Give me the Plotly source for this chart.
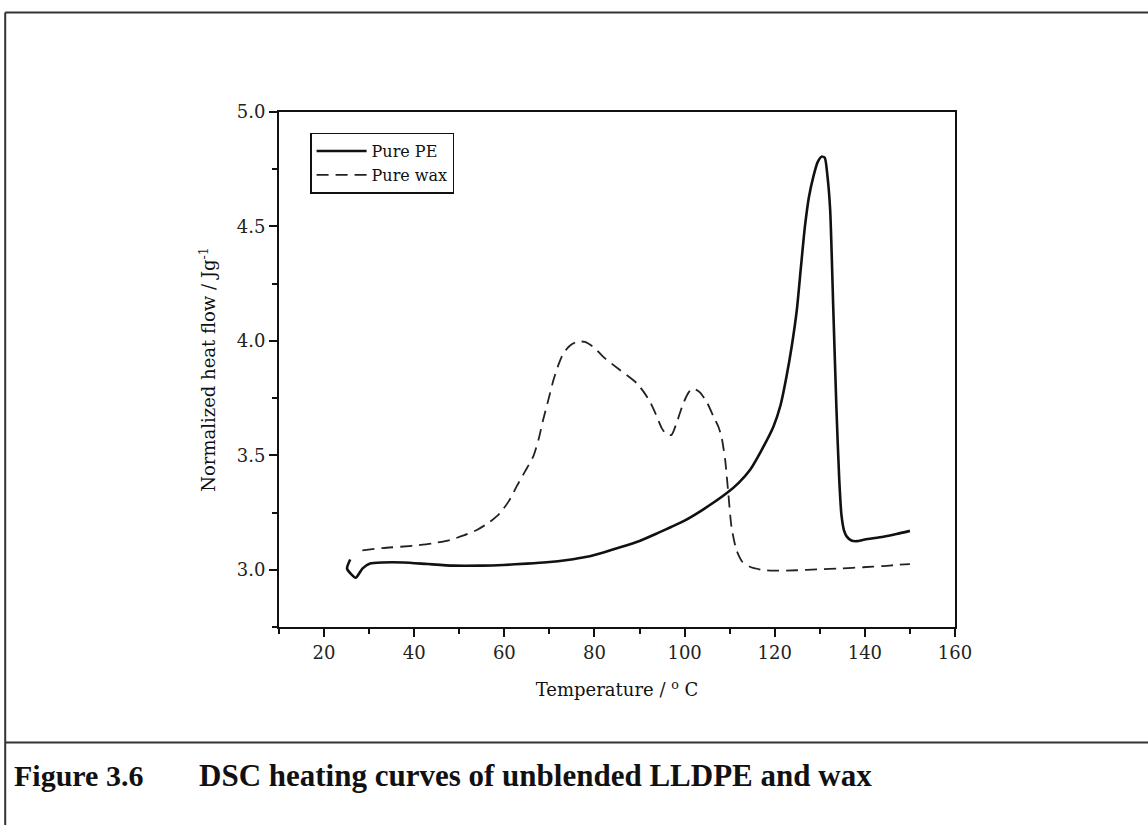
import plotly.graph_objects as go

# DSC heating curve: pure PE (LLDPE)
pe_temp = [25.8, 25.1, 27.0, 28.5, 30.2, 33.0, 37.6, 43.0, 48.7, 55.0, 59.8, 65.0, 69.4,
           74.0, 78.3, 82.0, 85.7, 90.0, 94.0, 97.0, 100.0, 104.0, 109.3, 112.0, 114.5,
           117.0, 119.7, 121.3, 122.6, 123.8, 124.9, 125.8, 126.7, 127.6, 128.6, 129.5,
           130.4, 131.1, 131.7, 132.3, 133.0, 133.7, 134.3, 134.8, 135.4, 136.0, 137.0,
           138.2, 140.0, 144.1, 147.0, 150.0]
pe_flow = [3.045, 3.005, 2.965, 3.005, 3.027, 3.032, 3.032, 3.025, 3.018, 3.018, 3.021,
           3.027, 3.033, 3.043, 3.057, 3.076, 3.098, 3.126, 3.160, 3.187, 3.215, 3.262,
           3.334, 3.380, 3.436, 3.520, 3.625, 3.720, 3.843, 3.980, 4.135, 4.320, 4.500,
           4.630, 4.720, 4.780, 4.805, 4.800, 4.720, 4.572, 4.135, 3.700, 3.400, 3.240,
           3.170, 3.145, 3.128, 3.125, 3.132, 3.144, 3.156, 3.170]

# DSC heating curve: pure wax
wax_temp = [28.5, 33.0, 39.8, 44.0, 47.9, 51.0, 53.9, 56.5, 59.0, 61.0, 62.7, 64.6, 66.4,
            67.6, 68.6, 69.8, 70.9, 72.0, 73.1, 74.6, 76.1, 77.9, 80.0, 81.9, 85.5, 89.4,
            91.0, 92.3, 93.6, 94.9, 96.0, 97.1, 98.2, 99.7, 100.9, 101.9, 103.4, 105.0,
            106.4, 107.5, 108.2, 109.0, 109.7, 110.4, 111.5, 112.8, 114.5, 117.0, 119.7,
            125.0, 129.3, 135.0, 139.6, 144.0, 147.0, 150.0]
wax_flow = [3.085, 3.095, 3.105, 3.115, 3.130, 3.150, 3.174, 3.205, 3.247, 3.300, 3.363,
            3.430, 3.494, 3.570, 3.654, 3.745, 3.829, 3.895, 3.946, 3.980, 3.996, 3.996,
            3.970, 3.931, 3.875, 3.815, 3.775, 3.735, 3.680, 3.620, 3.590, 3.589, 3.640,
            3.727, 3.775, 3.793, 3.775, 3.730, 3.670, 3.625, 3.580, 3.480, 3.334, 3.188,
            3.086, 3.035, 3.013, 3.000, 2.996, 2.998, 3.002, 3.006, 3.011, 3.016, 3.021,
            3.025]

x_ticks = [20, 40, 60, 80, 100, 120, 140, 160]
y_ticks = [3.0, 3.5, 4.0, 4.5, 5.0]
y_tick_text = ["3.0", "3.5", "4.0", "4.5", "5.0"]

SERIF = "DejaVu Serif, serif"
CAPTION_FONT = "Liberation Serif, Times New Roman, serif"

fig = go.Figure()
fig.add_trace(go.Scatter(
    x=pe_temp, y=pe_flow, mode="lines", name="Pure PE",
    line=dict(color="#111111", width=2.6, shape="spline", smoothing=0.6),
))
fig.add_trace(go.Scatter(
    x=wax_temp, y=wax_flow, mode="lines", name="Pure wax",
    line=dict(color="#222222", width=1.8, dash="12px,7px", shape="spline", smoothing=0.6),
))

axis_common = dict(
    showline=True, linecolor="#111111", linewidth=2, mirror=True,
    ticks="outside", ticklen=8, tickwidth=2, tickcolor="#111111",
    showgrid=False, zeroline=False,
    tickfont=dict(family=SERIF, size=18, color="#222222"),
)

fig.update_xaxes(
    range=[10, 160], tickvals=x_ticks,
    minor=dict(dtick=10, tick0=10, ticks="outside", ticklen=5, tickwidth=2, tickcolor="#111111"),
    title=dict(text="Temperature / <sup>o</sup> C", font=dict(family=SERIF, size=18, color="#111111"),
               standoff=22),
    **axis_common,
)
fig.update_yaxes(
    range=[2.75, 5.0], tickvals=y_ticks, ticktext=y_tick_text,
    minor=dict(dtick=0.25, tick0=2.75, ticks="outside", ticklen=5, tickwidth=2, tickcolor="#111111"),
    title=dict(text="Normalized heat flow / Jg<sup>-1</sup>", font=dict(family=SERIF, size=18, color="#111111"),
               standoff=16),
    **axis_common,
)

# Outer figure frame and caption rule
frame = dict(color="#333333", width=2)
fig.add_shape(type="line", xref="paper", yref="paper", x0=-0.405, x1=1.3, y0=1.193, y1=1.193, line=frame)
fig.add_shape(type="line", xref="paper", yref="paper", x0=-0.405, x1=-0.405, y0=1.193, y1=-0.4, line=frame)
fig.add_shape(type="line", xref="paper", yref="paper", x0=-0.405, x1=1.3, y0=-0.2245, y1=-0.2245, line=frame)

caption_font = dict(family=CAPTION_FONT, size=30, color="#111111")
fig.add_annotation(
    xref="paper", yref="paper", x=-0.395, y=-0.289, xanchor="left", yanchor="middle",
    text="<b>Figure 3.6</b>", showarrow=False, font=caption_font,
)
fig.add_annotation(
    xref="paper", yref="paper", x=-0.1213, y=-0.289, xanchor="left", yanchor="middle",
    text="<b>DSC heating curves of unblended LLDPE and wax</b>", showarrow=False,
    font=dict(family=CAPTION_FONT, size=31, color="#111111"),
)

fig.update_layout(
    width=1148, height=825,
    margin=dict(l=279, r=193, t=112, b=198),
    paper_bgcolor="white", plot_bgcolor="white",
    showlegend=True,
    legend=dict(
        x=0.046, y=0.96, xanchor="left", yanchor="top",
        bordercolor="#111111", borderwidth=1.5, bgcolor="white",
        font=dict(family=SERIF, size=16, color="#111111"),
        itemwidth=50, tracegroupgap=0,
    ),
)

fig.write_html("out.html")
